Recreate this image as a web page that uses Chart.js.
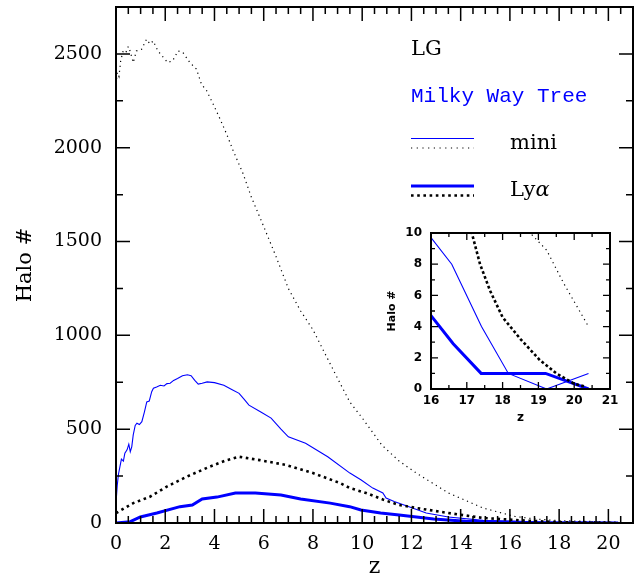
<!DOCTYPE html>
<html>
<head>
<meta charset="utf-8">
<script src="https://cdn.jsdelivr.net/npm/chart.js@4.4.0/dist/chart.umd.min.js"></script>
<style>
  html, body { margin: 0; padding: 0; background: #fff; }
  #wrap { position: relative; width: 639px; height: 576px; }
  #main { position: absolute; left: 0; top: 0; }
  #inset { position: absolute; left: 375px; top: 222px; }
</style>
</head>
<body>
<div id="wrap">
  <canvas id="main" width="639" height="576"></canvas>
  <canvas id="inset" width="250" height="205"></canvas>
</div>
<script>
// LG, mini haloes (thin dotted black)
const lgMiniZ = [0, 0.05, 0.12, 0.19, 0.29, 0.4, 0.5, 0.57, 0.7, 0.83, 1.04, 1.24, 1.38, 1.51, 1.7, 2.1, 2.3, 2.52, 2.72, 3.0, 3.27, 3.47, 3.68, 3.94, 4.2, 4.49, 4.76, 5.16, 5.5, 6.0, 6.5, 7.0, 7.5, 8.0, 8.5, 9.1, 9.5, 10.0, 10.8, 11.5, 12.2, 13.5, 14.9, 16.2, 17.0, 17.6, 18.2, 18.77, 19.23, 19.7, 20.4];
const lgMiniN = [2340, 2400, 2380, 2463, 2516, 2507, 2540, 2516, 2454, 2516, 2525, 2578, 2553, 2569, 2516, 2454, 2463, 2516, 2507, 2454, 2419, 2339, 2304, 2234, 2161, 2074, 1984, 1862, 1736, 1580, 1420, 1250, 1130, 1030, 900, 745, 644, 560, 415, 330, 266, 160, 80, 35, 22, 16, 12, 10, 8.9, 6.8, 4];

// LG, Ly-alpha haloes (thick dotted black)
const lgLyaZ = [0, 0.7, 1.38, 2.05, 2.86, 3.8, 4.5, 5.0, 5.84, 6.92, 8.0, 9.1, 9.5, 10.16, 10.84, 11.5, 12.2, 13.5, 14.9, 16.0, 16.6, 17.14, 17.37, 17.65, 18.0, 18.5, 19.04, 19.5, 19.98, 20.3];
const lgLyaN = [53, 106, 140, 193, 246, 300, 335, 353, 335, 309, 266, 213, 186, 160, 125, 96, 80, 53, 27, 18, 13, 10, 8, 6.3, 4.6, 3.2, 1.85, 1.0, 0.36, 0.15];

// Milky Way tree, mini haloes (thin blue)
const mwMiniZ = [0, 0.05, 0.1, 0.16, 0.22, 0.3, 0.36, 0.45, 0.52, 0.58, 0.64, 0.7, 0.78, 0.85, 0.95, 1.05, 1.15, 1.25, 1.35, 1.45, 1.52, 1.65, 1.8, 1.95, 2.07, 2.2, 2.34, 2.5, 2.7, 2.9, 3.05, 3.2, 3.34, 3.5, 3.7, 4.0, 4.38, 4.7, 5.0, 5.2, 5.4, 5.9, 6.3, 6.7, 7.0, 7.7, 8.6, 9.5, 9.96, 10.43, 10.84, 10.97, 11.3, 11.9, 12.6, 13.5, 14.9, 16.0, 16.58, 17.41, 18.16, 19.23, 20.4];
const mwMiniN = [106, 200, 260, 300, 340, 330, 372, 390, 420, 380, 406, 470, 520, 532, 525, 540, 590, 645, 650, 700, 718, 725, 734, 730, 743, 745, 760, 770, 785, 790, 785, 760, 740, 745, 752, 748, 734, 712, 691, 660, 628, 590, 559, 500, 459, 425, 353, 266, 229, 186, 160, 133, 115, 87, 53, 32, 14, 9.7, 8, 4, 1, 0, 1];

// Milky Way tree, Ly-alpha haloes (thick blue)
const mwLyaZ = [0, 0.58, 0.99, 1.66, 2.6, 3.1, 3.5, 4.1, 4.85, 5.66, 6.7, 7.5, 8.7, 9.49, 9.95, 10.75, 11.5, 12.9, 14.2, 15.0, 16.0, 16.62, 17.4, 19.2, 20.4];
const mwLyaN = [0, 7, 32, 53, 87, 96, 128, 138, 160, 160, 149, 128, 106, 87, 69, 53, 43, 21, 9, 6, 4.7, 2.9, 1, 1, 0];

const mainXTicks = [0, 2, 4, 6, 8, 10, 12, 14, 16, 18, 20];
const mainYTicks = [0, 500, 1000, 1500, 2000, 2500];
const insetXTicks = [16, 17, 18, 19, 20, 21];
const insetYTicks = [0, 2, 4, 6, 8, 10];

const BLUE = '#0000ff';

function pts(zs, ns) {
  return zs.map((z, i) => ({ x: z, y: ns[i] }));
}

function makeDatasets(thinDash, thickDash) {
  return [
    { data: pts(lgMiniZ, lgMiniN), borderColor: '#000', borderWidth: 1.2, borderDash: thinDash },
    { data: pts(lgLyaZ, lgLyaN), borderColor: '#000', borderWidth: 2.6, borderDash: thickDash },
    { data: pts(mwMiniZ, mwMiniN), borderColor: BLUE, borderWidth: 1.1 },
    { data: pts(mwLyaZ, mwLyaN), borderColor: BLUE, borderWidth: 3 }
  ].map(d => Object.assign(d, { showLine: true, pointRadius: 0, tension: 0, fill: false }));
}

// fixed axis box, no label overhang padding
function fixBox(size) {
  return s => {
    if (s.isHorizontal()) s.height = size; else s.width = size;
    s.paddingTop = 0; s.paddingBottom = 0; s.paddingLeft = 0; s.paddingRight = 0;
  };
}

// frame plus inward tick marks on all four sides
function frameTicks(o) {
  return {
    id: 'frameTicks',
    afterDatasetsDraw(chart) {
      const { ctx, chartArea: a, scales: { x, y } } = chart;
      ctx.save();
      ctx.strokeStyle = '#000';
      ctx.lineWidth = o.tickWidth;
      ctx.beginPath();
      const isMajor = (v, m) => Math.abs(v / m - Math.round(v / m)) < 1e-6;
      for (let v = x.min; v <= x.max + 1e-9; v += o.xMinor) {
        const px = x.getPixelForValue(v);
        const len = isMajor(v, o.xMajor) ? o.majorLen : o.minorLen;
        ctx.moveTo(px, a.bottom); ctx.lineTo(px, a.bottom - len);
        ctx.moveTo(px, a.top); ctx.lineTo(px, a.top + len);
      }
      for (let v = y.min; v <= y.max + 1e-9; v += o.yMinor) {
        const py = y.getPixelForValue(v);
        const len = isMajor(v, o.yMajor) ? o.majorLen : o.minorLen;
        ctx.moveTo(a.left, py); ctx.lineTo(a.left + len, py);
        ctx.moveTo(a.right, py); ctx.lineTo(a.right - len, py);
      }
      ctx.stroke();
      ctx.lineWidth = o.frameWidth;
      ctx.strokeRect(a.left, a.top, a.right - a.left, a.bottom - a.top);
      ctx.restore();
    }
  };
}

const legendPlugin = {
  id: 'haloLegend',
  afterDraw(chart) {
    const ctx = chart.ctx;
    ctx.save();
    ctx.textBaseline = 'alphabetic';
    ctx.fillStyle = '#000';
    ctx.font = '21px "DejaVu Serif"';
    ctx.fillText('LG', 411, 55);
    ctx.fillStyle = BLUE;
    ctx.font = '21px "Liberation Mono"';
    ctx.fillText('Milky Way Tree', 411, 102);

    const seg = (yy, color, w, dash) => {
      ctx.beginPath();
      ctx.strokeStyle = color;
      ctx.lineWidth = w;
      ctx.setLineDash(dash);
      ctx.moveTo(411, yy); ctx.lineTo(474, yy);
      ctx.stroke();
    };
    seg(138.5, BLUE, 1.1, []);
    seg(148, '#000', 1.2, [1.2, 4.5]);
    seg(186, BLUE, 3, []);
    seg(195.5, '#000', 2.6, [2.6, 3.6]);
    ctx.setLineDash([]);

    ctx.fillStyle = '#000';
    ctx.font = '21px "DejaVu Serif"';
    ctx.fillText('mini', 510, 149);
    ctx.fillText('Ly', 510, 196);
    const w = ctx.measureText('Ly').width;
    ctx.font = 'italic 21px "DejaVu Serif"';
    ctx.fillText('\u03b1', 510 + w, 196);
    ctx.restore();
  }
};

const serif = '"DejaVu Serif"';
const plain = v => String(v);

new Chart(document.getElementById('main'), {
  type: 'scatter',
  data: { datasets: makeDatasets([1.2, 3.8], [2.6, 3.6]) },
  options: {
    responsive: false,
    animation: false,
    layout: { padding: { top: 7, right: 6, left: 0, bottom: 0 } },
    plugins: { legend: { display: false }, tooltip: { enabled: false } },
    scales: {
      x: {
        type: 'linear', min: 0, max: 21,
        grid: { display: false, drawTicks: false, tickLength: 0 },
        border: { display: false },
        afterBuildTicks: s => { s.ticks = mainXTicks.map(v => ({ value: v })); },
        ticks: { padding: 10, color: '#000', font: { family: serif, size: 19 }, maxRotation: 0, autoSkip: false, callback: plain },
        title: { display: true, text: 'z', color: '#000', font: { family: serif, size: 22, lineHeight: 0.8 }, padding: { top: 0, bottom: 0 } },
        afterFit: fixBox(53)
      },
      y: {
        type: 'linear', min: 0, max: 2750,
        grid: { display: false, drawTicks: false, tickLength: 0 },
        border: { display: false },
        afterBuildTicks: s => { s.ticks = mainYTicks.map(v => ({ value: v })); },
        ticks: { padding: 14, color: '#000', font: { family: serif, size: 19 }, autoSkip: false, callback: plain },
        title: { display: true, text: 'Halo #', color: '#000', font: { family: serif, size: 21, lineHeight: 1.2 }, padding: { top: 13, bottom: 0 } },
        afterFit: fixBox(116)
      }
    }
  },
  plugins: [frameTicks({ xMinor: 0.5, xMajor: 2, yMinor: 250, yMajor: 500, majorLen: 14, minorLen: 7, tickWidth: 1.5, frameWidth: 2 }), legendPlugin]
});

const sans = '"DejaVu Sans"';

new Chart(document.getElementById('inset'), {
  type: 'scatter',
  data: { datasets: makeDatasets([1.2, 3.8], [2.8, 2.4]) },
  options: {
    responsive: false,
    animation: false,
    layout: { padding: { top: 11, right: 15, left: 0, bottom: 0 } },
    plugins: { legend: { display: false }, tooltip: { enabled: false } },
    scales: {
      x: {
        type: 'linear', min: 16, max: 21,
        grid: { display: false, drawTicks: false, tickLength: 0 },
        border: { display: false },
        afterBuildTicks: s => { s.ticks = insetXTicks.map(v => ({ value: v })); },
        ticks: { padding: 5, color: '#000', font: { family: sans, size: 12, weight: 'bold' }, maxRotation: 0, autoSkip: false, callback: plain },
        title: { display: true, text: 'z', color: '#000', font: { family: sans, size: 12, weight: 'bold', lineHeight: 1 }, padding: { top: 0, bottom: 3 } },
        afterFit: fixBox(38)
      },
      y: {
        type: 'linear', min: 0, max: 10,
        grid: { display: false, drawTicks: false, tickLength: 0 },
        border: { display: false },
        afterBuildTicks: s => { s.ticks = insetYTicks.map(v => ({ value: v })); },
        ticks: { padding: 9, color: '#000', font: { family: sans, size: 12, weight: 'bold' }, autoSkip: false, callback: plain },
        title: { display: true, text: 'Halo #', color: '#000', font: { family: sans, size: 11, weight: 'bold', lineHeight: 1.2 }, padding: { top: 11, bottom: 0 } },
        afterFit: fixBox(56)
      }
    }
  },
  plugins: [frameTicks({ xMinor: 0.5, xMajor: 1, yMinor: 1, yMajor: 2, majorLen: 7, minorLen: 4, tickWidth: 1.3, frameWidth: 2 })]
});
</script>
</body>
</html>
